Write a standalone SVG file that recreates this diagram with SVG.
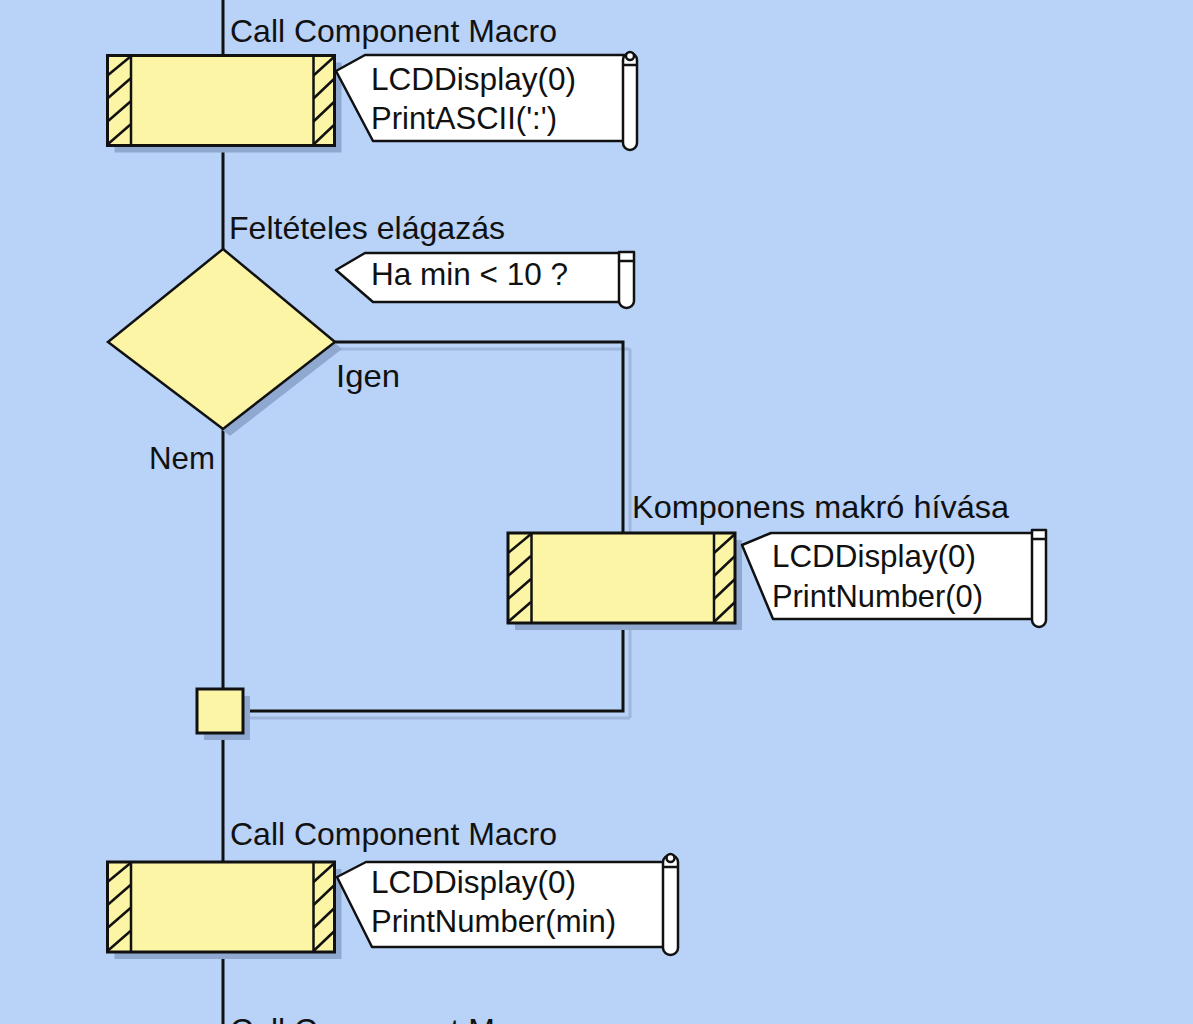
<svg xmlns="http://www.w3.org/2000/svg" xmlns:xlink="http://www.w3.org/1999/xlink" width="1193" height="1024" viewBox="0 0 1193 1024">
<style>
.t{font-family:"Liberation Sans",Arial,sans-serif;font-size:32px;fill:#111}
.ln{fill:none;stroke:#111;stroke-width:3}
.sh{fill:none;stroke:#9db6dc;stroke-width:3}
.box{fill:#fcf5a6;stroke:#111;stroke-width:3}
.hat{stroke:#111;stroke-width:2.5}
.cm{fill:#fff;stroke:#111;stroke-width:2.5;stroke-linejoin:round}
.bs{fill:#8fa8cf}
</style>
<defs>
<g id="callbox">
<rect class="bs" x="7" y="7" width="227" height="90"/>
<rect class="box" x="0" y="0" width="227" height="90"/>
<line class="hat" x1="23.5" y1="0" x2="23.5" y2="90"/>
<line class="hat" x1="206" y1="0" x2="206" y2="90"/>
<g class="hat">
<line x1="0" y1="20" x2="23" y2="1"/><line x1="0" y1="43" x2="23" y2="23"/><line x1="0" y1="66" x2="23" y2="46"/><line x1="0" y1="89" x2="23" y2="69"/>
<line x1="206" y1="20" x2="227" y2="1"/><line x1="206" y1="43" x2="227" y2="23"/><line x1="206" y1="66" x2="227" y2="46"/><line x1="206" y1="89" x2="227" y2="69"/>
</g>
</g>
</defs>
<rect width="1193" height="1024" fill="#b8d2f8"/>
<g id="connectors">
<line class="sh" x1="335" y1="349" x2="630" y2="349"/>
<line class="sh" x1="630" y1="349" x2="630" y2="718"/>
<line class="sh" x1="243" y1="718" x2="630" y2="718"/>
<line class="ln" x1="223" y1="0" x2="223" y2="1024"/>
<polyline class="ln" points="335,342 623,342 623,711 243,711"/>
</g>
<g id="n1">
<use xlink:href="#callbox" x="107.5" y="55.5"/>
<text class="t" x="230" y="42" textLength="327" lengthAdjust="spacingAndGlyphs">Call Component Macro</text>
<polygon class="cm" points="336,71 365,55 624,55 624,141 373,141"/>
<path class="cm" d="M623,60 L623,143 A7,7 0 0 0 637,143 L637,60 A7,7 0 0 0 623,60 Z M623,65 L637,65"/>
<circle class="cm" cx="630" cy="56" r="4"/>
<text class="t" x="371" y="90" textLength="205" lengthAdjust="spacingAndGlyphs">LCDDisplay(0)</text>
<text class="t" x="371" y="129" textLength="186" lengthAdjust="spacingAndGlyphs">PrintASCII(':')</text>
</g>
<g id="n2">
<polygon class="bs" points="230,256 342,349 230,436 115,349"/>
<polygon class="box" style="stroke-width:2.5" points="223,249 335,342 223,429 108,342"/>
<text class="t" x="229" y="239" textLength="276" lengthAdjust="spacingAndGlyphs">Feltételes elágazás</text>
<polygon class="cm" points="336,270 365,253 620,253 620,302 373,302"/>
<path class="cm" d="M619,252 L619,301 A7.5,7 0 0 0 634,301 L634,252 Z M619,261 L634,261"/>
<text class="t" x="371" y="285" textLength="197" lengthAdjust="spacingAndGlyphs">Ha min &lt; 10 ?</text>
<text class="t" x="336" y="387" textLength="64" lengthAdjust="spacingAndGlyphs">Igen</text>
<text class="t" x="149" y="469" textLength="66" lengthAdjust="spacingAndGlyphs">Nem</text>
</g>
<g id="n3">
<use xlink:href="#callbox" x="508" y="533"/>
<text class="t" x="632" y="518" textLength="377" lengthAdjust="spacingAndGlyphs">Komponens makró hívása</text>
<polygon class="cm" points="742,545 771,533 1033,533 1033,619 773,619"/>
<path class="cm" d="M1032,530 L1032,620 A7,7 0 0 0 1046,620 L1046,530 Z M1032,539 L1046,539"/>
<text class="t" x="772" y="567" textLength="204" lengthAdjust="spacingAndGlyphs">LCDDisplay(0)</text>
<text class="t" x="772" y="607" textLength="211" lengthAdjust="spacingAndGlyphs">PrintNumber(0)</text>
</g>
<g id="n4">
<rect class="bs" x="204" y="696" width="46" height="44"/>
<rect class="box" x="197" y="689" width="46" height="44"/>
</g>
<g id="n5">
<use xlink:href="#callbox" x="107.5" y="862"/>
<text class="t" x="230" y="845" textLength="327" lengthAdjust="spacingAndGlyphs">Call Component Macro</text>
<polygon class="cm" points="337,877 366,862 664,862 664,947 372,947"/>
<path class="cm" d="M663,862 L663,948 A7.5,7 0 0 0 678,948 L678,862 A7.5,7 0 0 0 663,862 Z M663,867 L678,867"/>
<circle class="cm" cx="670.5" cy="858" r="4"/>
<text class="t" x="371" y="893" textLength="205" lengthAdjust="spacingAndGlyphs">LCDDisplay(0)</text>
<text class="t" x="371" y="932" textLength="245" lengthAdjust="spacingAndGlyphs">PrintNumber(min)</text>
</g>
<g id="n6">
<text class="t" x="230" y="1041" textLength="327" lengthAdjust="spacingAndGlyphs">Call Component Macro</text>
</g>
</svg>
